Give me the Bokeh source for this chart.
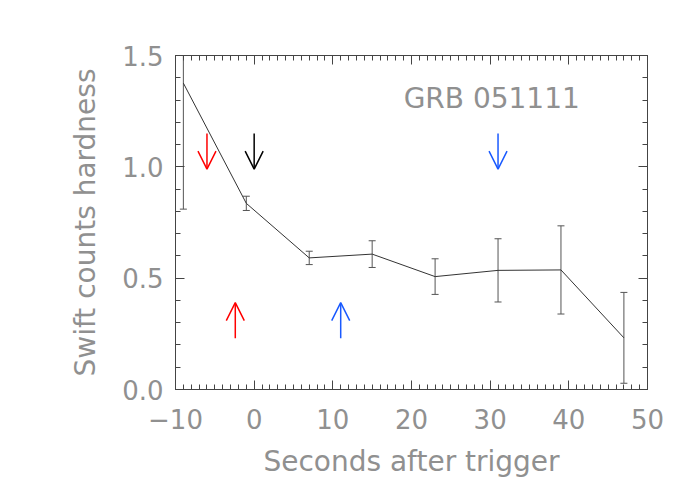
from bokeh.plotting import figure
from bokeh.models import (Range1d, LinearAxis, SingleIntervalTicker, ColumnDataSource,
                          Arrow, OpenHead, Label)
from bokeh.embed import file_html
from bokeh.resources import INLINE

# data
t = [-9, -1, 7, 15, 23, 31, 39, 47]
hardness = [1.376, 0.836, 0.591, 0.608, 0.507, 0.535, 0.537, 0.232]
err = [0.566, 0.032, 0.030, 0.060, 0.080, 0.142, 0.198, 0.204]

down_x = [-6, 0, 31]
down_colors = ["#ff0000", "#000000", "#1a5aff"]
down_y0, down_y1 = 1.15, 0.99
up_x = [-2.4, 11]
up_colors = ["#ff0000", "#1a5aff"]
up_y0, up_y1 = 0.23, 0.39

title_text = "GRB 051111"
title_x, title_y = 19.0, 1.306
x_label = "Seconds after trigger"
y_label = "Swift counts hardness"

FONT = "DejaVu Sans"
TXT = "#909090"
AX = "#444444"

lower = [h - e for h, e in zip(hardness, err)]
upper = [h + e for h, e in zip(hardness, err)]
src = ColumnDataSource(dict(t=t, h=hardness, lo=lower, up=upper))

p = figure(width=692, height=492, output_backend="svg", toolbar_location=None,
           x_range=Range1d(-10, 50), y_range=Range1d(0, 1.5),
           x_axis_label=x_label, y_axis_label=y_label,
           min_border_left=175, min_border_right=45, min_border_top=55, min_border_bottom=103)
p.grid.visible = False
p.background_fill_color = "white"
p.border_fill_color = "white"
p.outline_line_color = AX
p.outline_line_width = 1

p.xaxis.ticker = SingleIntervalTicker(interval=10, num_minor_ticks=10)
p.yaxis.ticker = SingleIntervalTicker(interval=0.5, num_minor_ticks=5)
p.xaxis.major_label_overrides = {-10: "\u221210"}
p.yaxis.major_label_overrides = {0: "0.0", 0.5: "0.5", 1: "1.0", 1.5: "1.5"}

for ax in [p.xaxis[0], p.yaxis[0]]:
    ax.axis_line_color = AX
    ax.major_tick_line_color = AX
    ax.minor_tick_line_color = AX
    ax.major_tick_in = 9
    ax.major_tick_out = 0
    ax.minor_tick_in = 5
    ax.minor_tick_out = 0
    ax.major_label_text_font = FONT
    ax.major_label_text_font_size = "26px"
    ax.major_label_text_color = TXT
    ax.axis_label_text_font = FONT
    ax.axis_label_text_font_size = "28px"
    ax.axis_label_text_font_style = "normal"
    ax.axis_label_text_color = TXT
p.xaxis.major_label_standoff = 19
p.xaxis.axis_label_standoff = 13
p.yaxis.major_label_standoff = 12
p.yaxis.axis_label_standoff = 17

# mirrored axes
top = LinearAxis(ticker=SingleIntervalTicker(interval=10, num_minor_ticks=10))
right = LinearAxis(ticker=SingleIntervalTicker(interval=0.5, num_minor_ticks=5))
for ax in [top, right]:
    ax.axis_line_color = AX
    ax.major_tick_line_color = AX
    ax.minor_tick_line_color = AX
    ax.major_tick_in = 9
    ax.major_tick_out = 0
    ax.minor_tick_in = 5
    ax.minor_tick_out = 0
    ax.major_label_text_color = None
    ax.major_label_text_font_size = "1px"
    ax.major_label_standoff = 0
p.add_layout(top, "above")
p.add_layout(right, "right")

# error bars
p.segment(x0="t", y0="lo", x1="t", y1="up", source=src, line_color="#555555", line_width=1)
p.scatter(x="t", y="lo", source=src, marker="dash", size=7, line_color="#555555", line_width=1)
p.scatter(x="t", y="up", source=src, marker="dash", size=7, line_color="#555555", line_width=1)
# line
p.line(x="t", y="h", source=src, line_color="#333333", line_width=1)

# arrows
for x, c in zip(down_x, down_colors):
    p.add_layout(Arrow(x_start=x, y_start=down_y0, x_end=x, y_end=down_y1,
                       line_color=c, line_width=1.5,
                       end=OpenHead(size=18, line_color=c, line_width=1.5)))
for x, c in zip(up_x, up_colors):
    p.add_layout(Arrow(x_start=x, y_start=up_y0, x_end=x, y_end=up_y1,
                       line_color=c, line_width=1.5,
                       end=OpenHead(size=18, line_color=c, line_width=1.5)))

p.add_layout(Label(x=title_x, y=title_y, text=title_text, text_font=FONT,
                   text_font_size="28px", text_color=TXT, text_baseline="middle",
                   text_align="left"))

open("out.html", "w").write(file_html(p, INLINE))
